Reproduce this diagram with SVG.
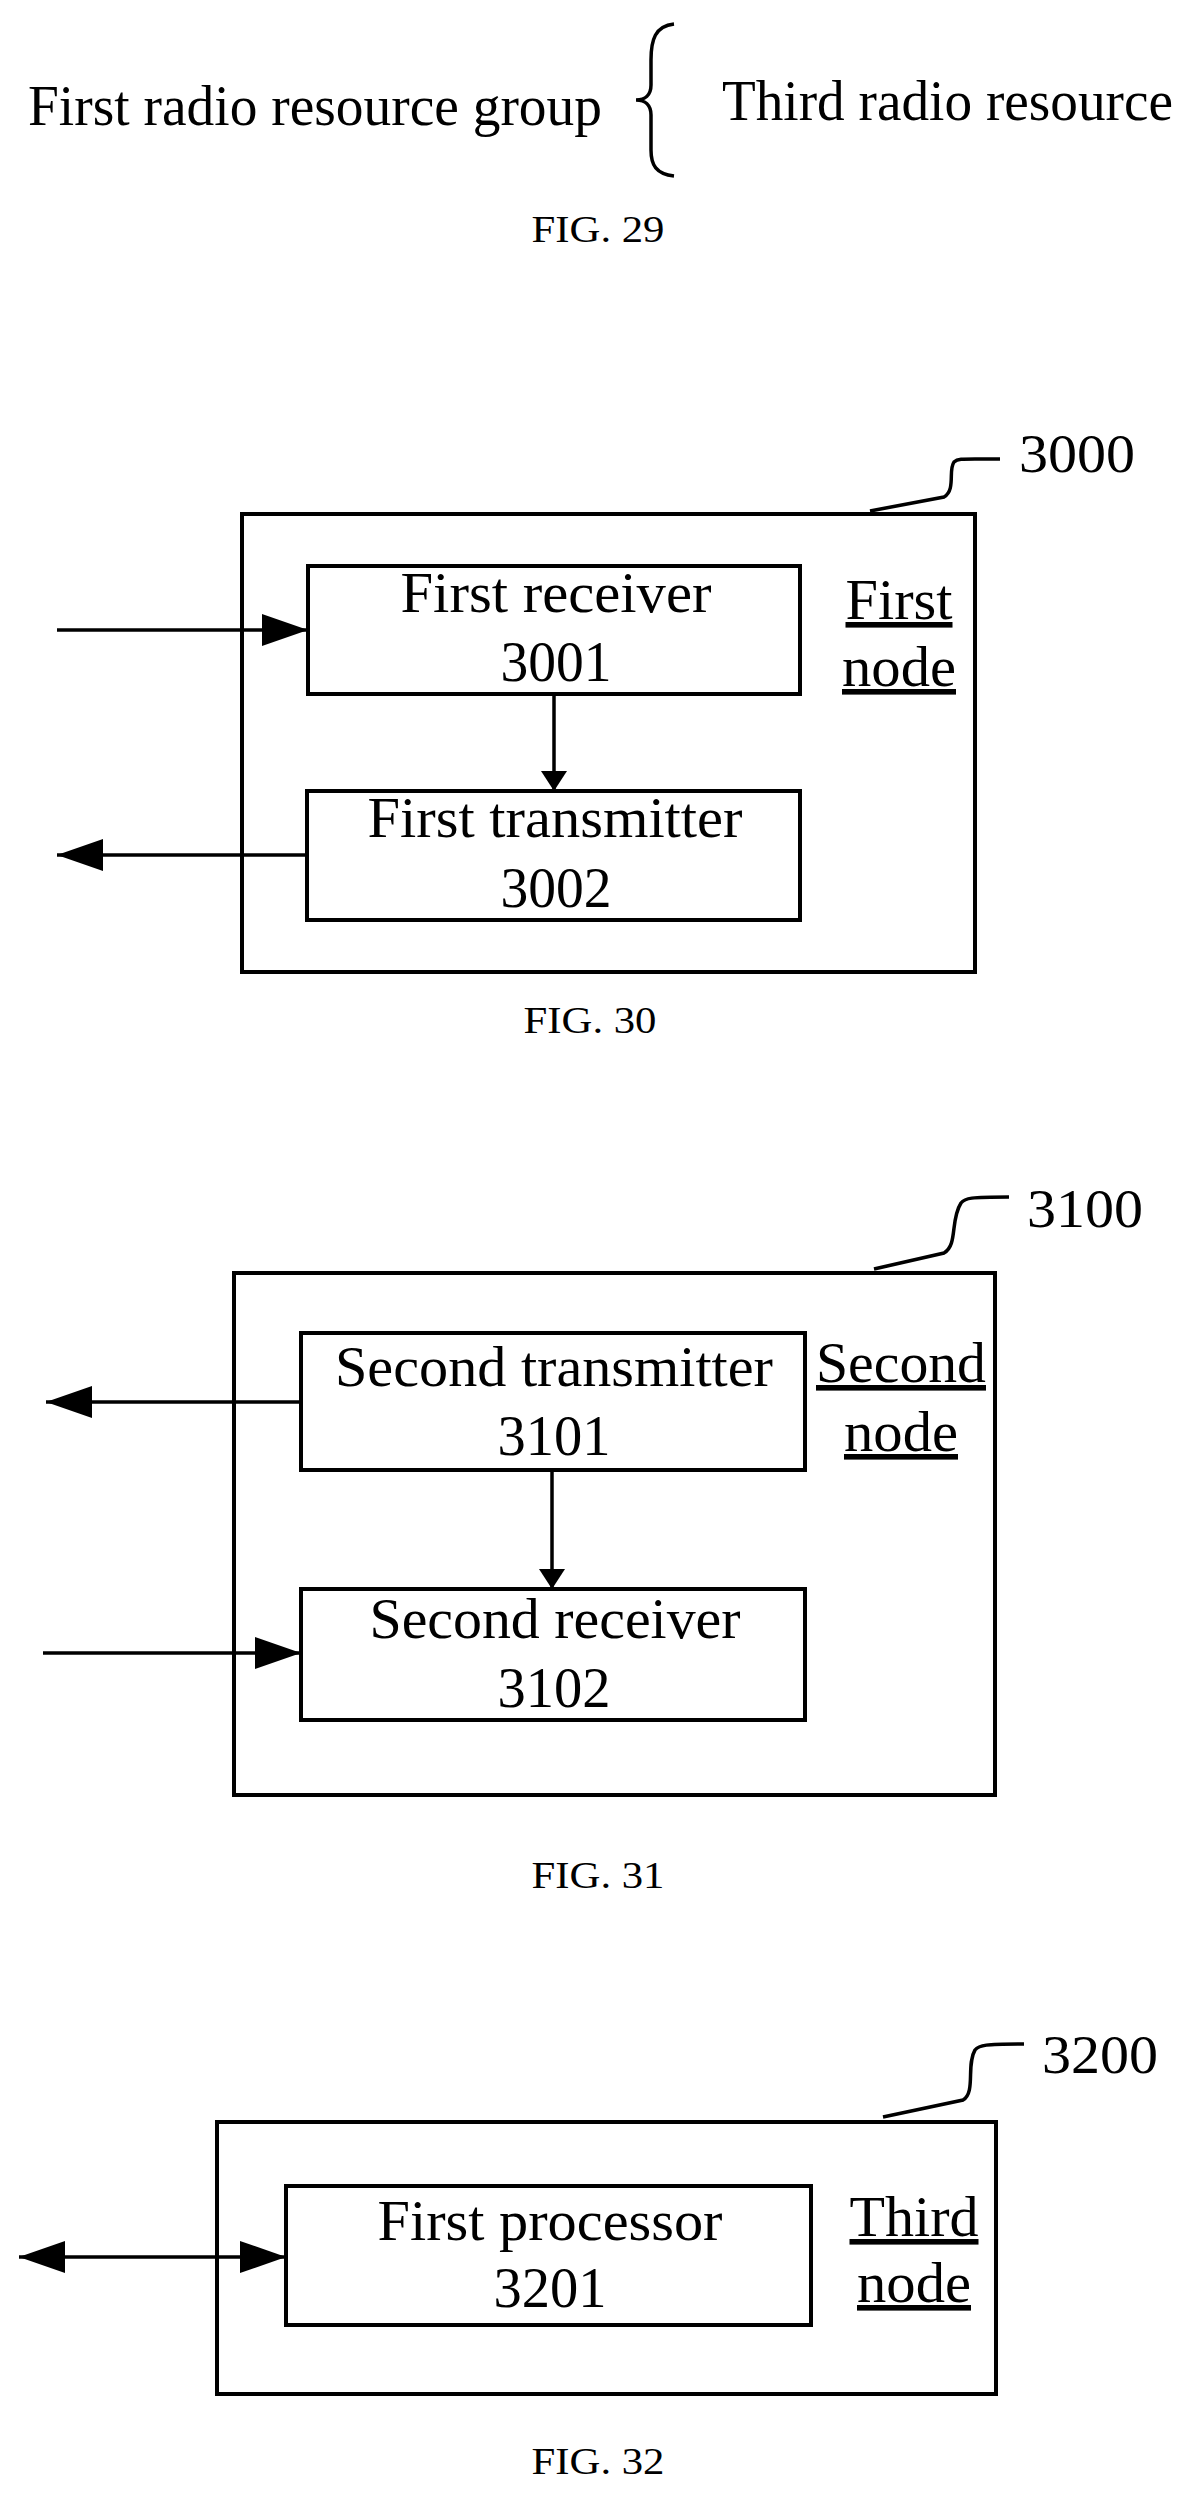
<svg xmlns="http://www.w3.org/2000/svg" width="1188" height="2493" viewBox="0 0 1188 2493">
<style>
text{font-family:"Liberation Serif","Times New Roman",serif;fill:#000}
.big{font-size:56px}
.t{font-size:56px;text-anchor:middle}
.fig{font-size:38px;text-anchor:middle}
.ref{font-size:54px}
.u{text-decoration:underline}
.box{fill:none;stroke:#000;stroke-width:4}
.ln{fill:none;stroke:#000;stroke-width:3.5}
</style>
<defs>
<marker id="ah" markerWidth="46" markerHeight="32" refX="46" refY="16" orient="auto" markerUnits="userSpaceOnUse"><path d="M0,0 L46,16 L0,32 Z" fill="#000"/></marker>
<marker id="ahs" markerWidth="20" markerHeight="26" refX="20" refY="13" orient="auto" markerUnits="userSpaceOnUse"><path d="M0,0 L20,13 L0,26 Z" fill="#000"/></marker>
<marker id="ahb" markerWidth="46" markerHeight="32" refX="0" refY="16" orient="auto" markerUnits="userSpaceOnUse"><path d="M46,0 L0,16 L46,32 Z" fill="#000"/></marker>
</defs>
<g id="fig29">
<text class="big" x="28" y="125" textLength="574" lengthAdjust="spacingAndGlyphs">First radio resource group</text>
<path class="ln" d="M674,24 C655,26 651,40 651,60 L651,85 C651,95 645,100 636,100 C645,100 651,105 651,115 L651,150 C651,165 656,174 674,176"/>
<text class="big" x="722" y="120" textLength="451" lengthAdjust="spacingAndGlyphs">Third radio resource</text>
<text class="fig" x="598" y="242" textLength="133" lengthAdjust="spacingAndGlyphs">FIG. 29</text>
</g>
<g id="fig30">
<rect class="box" x="242" y="514" width="733" height="458"/>
<path class="ln" d="M870,511 L944,497 C956,490 948,470 954,462 C958,458 962,459 1000,459"/>
<text class="ref" x="1019" y="472" textLength="116" lengthAdjust="spacingAndGlyphs">3000</text>
<g id="n3001"><rect class="box" x="308" y="566" width="492" height="128"/>
<text class="t" x="556" y="612" textLength="311" lengthAdjust="spacingAndGlyphs">First receiver</text><text class="t" x="556" y="681" textLength="111" lengthAdjust="spacingAndGlyphs">3001</text></g>
<g id="n3002"><rect class="box" x="307" y="791" width="493" height="129"/>
<text class="t" x="555" y="837" textLength="375" lengthAdjust="spacingAndGlyphs">First transmitter</text><text class="t" x="556" y="907" textLength="111" lengthAdjust="spacingAndGlyphs">3002</text></g>
<text class="t u" x="899" y="619" textLength="107" lengthAdjust="spacingAndGlyphs">First</text><text class="t u" x="899" y="686" textLength="114" lengthAdjust="spacingAndGlyphs">node</text>
<text class="fig" x="590" y="1033" textLength="133" lengthAdjust="spacingAndGlyphs">FIG. 30</text>
</g>
<g id="fig31">
<rect class="box" x="234" y="1273" width="761" height="522"/>
<path class="ln" d="M874,1269 L944,1253 C958,1245 950,1220 961,1203 C965,1198 970,1197 1009,1197"/>
<text class="ref" x="1027" y="1227" textLength="116" lengthAdjust="spacingAndGlyphs">3100</text>
<g id="n3101"><rect class="box" x="301" y="1333" width="504" height="137"/>
<text class="t" x="554" y="1386" textLength="438" lengthAdjust="spacingAndGlyphs">Second transmitter</text><text class="t" x="554" y="1455" textLength="113" lengthAdjust="spacingAndGlyphs">3101</text></g>
<g id="n3102"><rect class="box" x="301" y="1589" width="504" height="131"/>
<text class="t" x="555" y="1638" textLength="371" lengthAdjust="spacingAndGlyphs">Second receiver</text><text class="t" x="554" y="1707" textLength="113" lengthAdjust="spacingAndGlyphs">3102</text></g>
<text class="t u" x="901" y="1382" textLength="170" lengthAdjust="spacingAndGlyphs">Second</text><text class="t u" x="901" y="1451" textLength="114" lengthAdjust="spacingAndGlyphs">node</text>
<text class="fig" x="598" y="1888" textLength="133" lengthAdjust="spacingAndGlyphs">FIG. 31</text>
</g>
<g id="fig32">
<rect class="box" x="217" y="2122" width="779" height="272"/>
<path class="ln" d="M883,2117 L963,2100 C976,2092 966,2065 975,2050 C979,2045 985,2044 1024,2044"/>
<text class="ref" x="1042" y="2073" textLength="116" lengthAdjust="spacingAndGlyphs">3200</text>
<g id="n3201"><rect class="box" x="286" y="2186" width="525" height="139"/>
<text class="t" x="550" y="2240" textLength="345" lengthAdjust="spacingAndGlyphs">First processor</text><text class="t" x="550" y="2307" textLength="113" lengthAdjust="spacingAndGlyphs">3201</text></g>
<text class="t u" x="914" y="2236" textLength="129" lengthAdjust="spacingAndGlyphs">Third</text><text class="t u" x="914" y="2302" textLength="114" lengthAdjust="spacingAndGlyphs">node</text>
<text class="fig" x="598" y="2474" textLength="133" lengthAdjust="spacingAndGlyphs">FIG. 32</text>
</g>
<g id="connectors">
<line class="ln" x1="57" y1="630" x2="308" y2="630" marker-end="url(#ah)"/>
<line class="ln" x1="554" y1="694" x2="554" y2="791" marker-end="url(#ahs)"/>
<line class="ln" x1="307" y1="855" x2="57" y2="855" marker-end="url(#ah)"/>
<line class="ln" x1="301" y1="1402" x2="46" y2="1402" marker-end="url(#ah)"/>
<line class="ln" x1="552" y1="1470" x2="552" y2="1589" marker-end="url(#ahs)"/>
<line class="ln" x1="43" y1="1653" x2="301" y2="1653" marker-end="url(#ah)"/>
<line class="ln" x1="19" y1="2257" x2="286" y2="2257" marker-start="url(#ahb)" marker-end="url(#ah)"/>
</g>
</svg>
